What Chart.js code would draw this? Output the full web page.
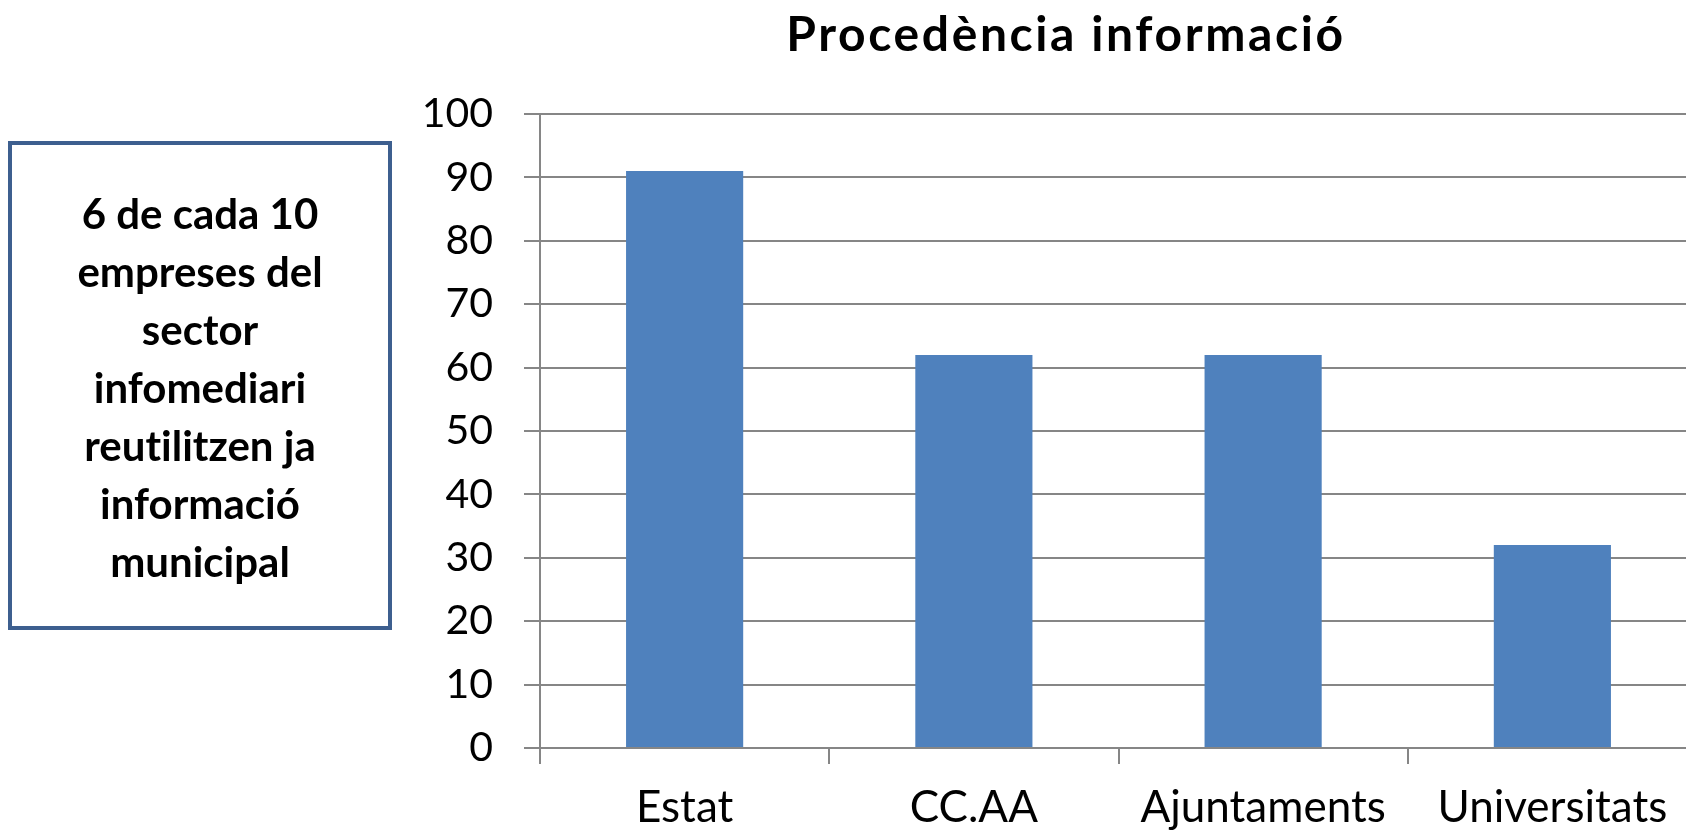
<!DOCTYPE html>
<html>
<head>
<meta charset="utf-8">
<script src="https://cdn.jsdelivr.net/npm/chart.js@4/dist/chart.umd.min.js"></script>
<style>
  html, body { margin: 0; padding: 0; background: #fff; overflow: hidden; }
  #wrap { position: relative; width: 1700px; height: 830px; }
  #titol {
    position: absolute; left: 1066px; top: 3px; transform: translateX(-50%);
    font: bold 48px Lato, sans-serif; line-height: 60px; letter-spacing: 2.6px;
    white-space: nowrap; color: #000; font-variant-ligatures: none;
  }
  #caixa {
    position: absolute; left: 8px; top: 141px; width: 376px; height: 481px;
    border: 4px solid #3D5F8F; box-sizing: content-box;
    font: bold 42px Lato, sans-serif; line-height: 58px; text-align: center; color: #000;
    font-variant-ligatures: none;
  }
  #caixa div { padding-top: 39px; }
</style>
</head>
<body>
<div id="wrap">
  <canvas id="grafic" width="1700" height="830"></canvas>
  <div id="titol">Procedència informació</div>
  <div id="caixa"><div>6 de cada 10<br>empreses del<br>sector<br>infomediari<br>reutilitzen ja<br>informació<br>municipal</div></div>
</div>
<script>
'use strict'

// Procedència de la informació reutilitzada (%)
const categories = ['Estat', 'CC.AA', 'Ajuntaments', 'Universitats'];
const valors = [91, 62, 62, 32];
const eixY = { min: 0, max: 100, pas: 10 };

const gris = '#868686';

const ctx = document.getElementById('grafic');

new Chart(ctx, {
  type: 'bar',
  data: {
    labels: categories,
    datasets: [{
      label: 'Procedència informació',
      data: valors,
      backgroundColor: '#4F81BD',
      borderWidth: 0,
      categoryPercentage: 1,
      barPercentage: 0.405
    }]
  },
  options: {
    responsive: false,
    animation: false,
    layout: { padding: { top: 114, right: 3, left: 0, bottom: 0 } },
    plugins: {
      legend: { display: false },
      tooltip: { enabled: false }
    },
    scales: {
      x: {
        grid: { drawOnChartArea: false, drawTicks: true, tickLength: 16, color: gris, lineWidth: 2, offset: true },
        border: { display: false },
        ticks: { color: '#000', font: { family: 'Lato', size: 44 }, padding: 17, maxRotation: 0 },
        afterFit: function (scale) { scale.height = 82; }
      },
      y: {
        min: eixY.min,
        max: eixY.max,
        grid: { color: gris, lineWidth: 2, tickLength: 16 },
        border: { display: true, color: gris, width: 2 },
        ticks: { stepSize: eixY.pas, color: '#000', font: { family: 'Lato', size: 41 }, padding: 31 },
        afterFit: function (scale) { scale.width = 540; }
      }
    }
  }
});
</script>
</body>
</html>
